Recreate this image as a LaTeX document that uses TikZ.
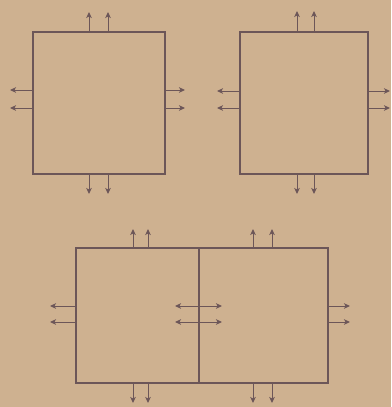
\documentclass[tikz,border=0pt]{standalone}
\usetikzlibrary{arrows.meta,calc}

\definecolor{paper}{RGB}{206,177,144}
\definecolor{ink}{RGB}{108,86,88}

\begin{document}
\begin{tikzpicture}[
  x=1pt, y=-1pt,
  >={Stealth[length=6pt,width=5.5pt,inset=1.5pt]},
  cell/.style={draw=ink, line width=1.1pt, inner sep=0pt, outer sep=0pt},
  flux/.style={->, draw=ink, line width=1pt}
]

% ---------- Paper ----------
\fill[paper] (0,0) rectangle (391,407);
\useasboundingbox (0,0) rectangle (391,407);

% ---------- Single cells ----------
\node[cell, minimum width=132pt, minimum height=142pt] (boxA) at (99,103) {};
\node[cell, minimum width=128pt, minimum height=142pt] (boxB) at (304,103) {};

% ---------- Joined pair ----------
\node[cell, minimum width=123pt, minimum height=135pt] (pairL) at (137.5,315.5) {};
\node[cell, minimum width=129pt, minimum height=135pt] (pairR) at (263.5,315.5) {};

% ---------- Fluxes, cell A ----------
\foreach \dx in {-10,9} {
  \draw[flux] ($(boxA.north)+(\dx,0)$) -- ++(0,-20);
  \draw[flux] ($(boxA.south)+(\dx,0)$) -- ++(0,20);
}
\foreach \dy in {-13,5} {
  \draw[flux] ($(boxA.west)+(0,\dy)$) -- ++(-23,0);
  \draw[flux] ($(boxA.east)+(0,\dy)$) -- ++(20,0);
}

% ---------- Fluxes, cell B ----------
\foreach \dx in {-7,10} {
  \draw[flux] ($(boxB.north)+(\dx,0)$) -- ++(0,-21);
  \draw[flux] ($(boxB.south)+(\dx,0)$) -- ++(0,20);
}
\foreach \dy in {-12,5} {
  \draw[flux] ($(boxB.west)+(0,\dy)$) -- ++(-23,0);
  \draw[flux] ($(boxB.east)+(0,\dy)$) -- ++(22,0);
}

% ---------- Fluxes, joined pair ----------
\foreach \dx in {-4.5,10.5} {
  \draw[flux] ($(pairL.north)+(\dx,0)$) -- ++(0,-19);
  \draw[flux] ($(pairL.south)+(\dx,0)$) -- ++(0,20);
}
\foreach \dx in {-10.5,8.5} {
  \draw[flux] ($(pairR.north)+(\dx,0)$) -- ++(0,-19);
  \draw[flux] ($(pairR.south)+(\dx,0)$) -- ++(0,20);
}
\foreach \dy in {-9.5,6.5} {
  \draw[flux] ($(pairL.west)+(0,\dy)$) -- ++(-26,0);
  \draw[flux] ($(pairL.east)+(0,\dy)$) -- ++(-24,0);
  \draw[flux] ($(pairR.west)+(0,\dy)$) -- ++(23,0);
  \draw[flux] ($(pairR.east)+(0,\dy)$) -- ++(22,0);
}

\end{tikzpicture}
\end{document}
